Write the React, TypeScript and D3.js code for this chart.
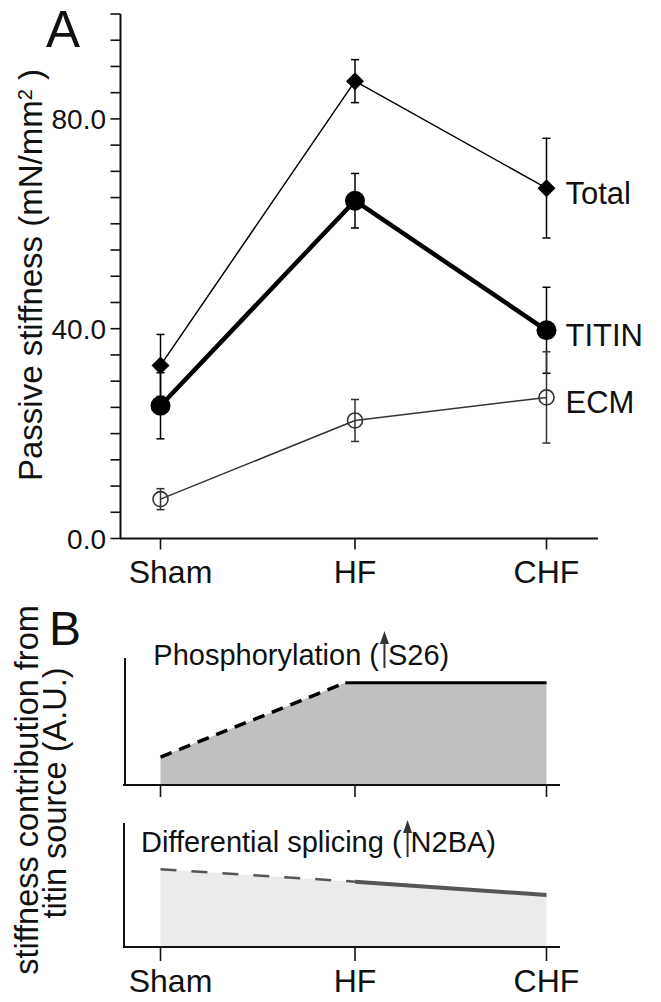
import React from "react";
import * as d3 from "d3";

// ---------- data ----------
const categories = ["Sham", "HF", "CHF"];
const seriesNames = ["Total", "TITIN", "ECM"];
const totalMean = [33.0, 87.2, 66.8];
const totalErr = [5.9, 4.1, 9.5];
const titinMean = [25.3, 64.4, 39.7];
const titinErr = [6.3, 5.2, 8.2];
const ecmMean = [7.5, 22.5, 26.9];
const ecmErr = [2.0, 4.0, 8.7];
const yTickLabels = [0, 40, 80];
const yMinorTicks = d3.range(0, 101, 5);

// Panel B (arbitrary units, category index positions)
const phosPos = [0, 0.95, 2];
const phosVal = [2.2, 8.05, 8.05];
const splicePos = [0, 1, 2];
const spliceVal = [6.27, 5.27, 4.19];

const FONT = "Liberation Sans, Arial, Helvetica, sans-serif";

export default function App() {
  const x = d3.scaleLinear().domain([0, 1, 2]).range([160.5, 355, 546.5]);
  const yA = d3.scaleLinear().domain([0, 100]).range([538.5, 14]);
  const yB1 = d3.scaleLinear().domain([0, 10]).range([785, 658]);
  const yB2 = d3.scaleLinear().domain([0, 10]).range([947, 823]);

  const lineA = d3
    .line<number>()
    .x((_, i) => x(i))
    .y((d) => yA(d));

  const series = [
    { name: seriesNames[0], mean: totalMean, err: totalErr, color: "#000", width: 1.5, marker: "diamond" },
    { name: seriesNames[1], mean: titinMean, err: titinErr, color: "#000", width: 4.5, marker: "circle" },
    { name: seriesNames[2], mean: ecmMean, err: ecmErr, color: "#333", width: 1.5, marker: "open" },
  ];

  const areaB1 = d3
    .area<number>()
    .x((_, i) => x(phosPos[i]))
    .y0(yB1(0))
    .y1((d) => yB1(d));
  const areaB2 = d3
    .area<number>()
    .x((_, i) => x(splicePos[i]))
    .y0(yB2(0))
    .y1((d) => yB2(d));
  const segB1 = (a: number, b: number) =>
    d3.line<number>().x((i) => x(phosPos[i])).y((i) => yB1(phosVal[i]))([a, b]) as string;
  const segB2 = (a: number, b: number) =>
    d3.line<number>().x((i) => x(splicePos[i])).y((i) => yB2(spliceVal[i]))([a, b]) as string;

  const arrow = (ax: number, yTop: number, yBot: number) => (
    <g>
      <line x1={ax} x2={ax} y1={yBot} y2={yTop + 8} stroke="#333" strokeWidth={2} />
      <polygon points={`${ax},${yTop} ${ax - 4.5},${yTop + 13} ${ax + 4.5},${yTop + 13}`} fill="#333" />
    </g>
  );

  const catLabel = (c: string, i: number, yBase: number) => (
    <text
      key={c}
      x={x(i) + (i === 0 ? 10 : 0)}
      y={yBase}
      textAnchor="middle"
      fontSize={32}
      fill="#111"
    >
      {c}
    </text>
  );

  const fsB = 29;
  const gap = 9;
  const phosPrefixEm = 7.781; // "Phosphorylation ("
  const splPrefixEm = 9.002; // "Differential splicing ("

  return (
    <svg
      width={661}
      height={1002}
      style={{ position: "absolute", left: 0, top: 0, background: "#fff" }}
      fontFamily={FONT}
    >
      <rect width={661} height={1002} fill="#fff" />
      {/* ---------- Panel A ---------- */}
      <text x={46} y={47} fontSize={51} fill="#111">A</text>
      {/* y axis */}
      <line x1={120.5} x2={120.5} y1={yA(100)} y2={yA(0)} stroke="#111" strokeWidth={2} />
      {yMinorTicks.map((t) => (
        <line key={t} x1={110.5} x2={120.5} y1={yA(t)} y2={yA(t)} stroke="#111" strokeWidth={1.6} />
      ))}
      {yTickLabels.map((t) => (
        <text key={t} x={106} y={yA(t) + 10} textAnchor="end" fontSize={28} fill="#111">
          {t.toFixed(1)}
        </text>
      ))}
      <text transform={`translate(42,275) rotate(-90)`} textAnchor="middle" fontSize={33} fill="#111">
        Passive stiffness (mN/mm
        <tspan dy={-10} fontSize={20}>2</tspan>
        <tspan dy={10}> )</tspan>
      </text>
      {/* x axis */}
      <line x1={120} x2={598} y1={yA(0)} y2={yA(0)} stroke="#111" strokeWidth={2} />
      {categories.map((c, i) => (
        <line key={c} x1={x(i)} x2={x(i)} y1={yA(0)} y2={yA(0) + 11} stroke="#111" strokeWidth={1.6} />
      ))}
      {categories.map((c, i) => catLabel(c, i, 583))}

      {/* lines */}
      {series.map((s) => (
        <path key={s.name} d={lineA(s.mean) as string} fill="none" stroke={s.color} strokeWidth={s.width} strokeLinejoin="round" />
      ))}
      {/* error bars */}
      {series.map((s) =>
        s.mean.map((m, i) => (
          <g key={s.name + i} stroke={s.color} strokeWidth={1.5}>
            <line x1={x(i)} x2={x(i)} y1={yA(m + s.err[i])} y2={yA(m - s.err[i])} />
            <line x1={x(i) - 4} x2={x(i) + 4} y1={yA(m + s.err[i])} y2={yA(m + s.err[i])} />
            <line x1={x(i) - 4} x2={x(i) + 4} y1={yA(m - s.err[i])} y2={yA(m - s.err[i])} />
          </g>
        ))
      )}
      {/* markers */}
      {series.map((s) =>
        s.mean.map((m, i) => {
          const cx = x(i);
          const cy = yA(m);
          if (s.marker === "diamond")
            return (
              <polygon key={s.name + "m" + i} points={`${cx},${cy - 9} ${cx + 9},${cy} ${cx},${cy + 9} ${cx - 9},${cy}`} fill="#000" />
            );
          if (s.marker === "circle") return <circle key={s.name + "m" + i} cx={cx} cy={cy} r={10} fill="#000" />;
          return <circle key={s.name + "m" + i} cx={cx} cy={cy} r={7.5} fill="none" stroke="#333" strokeWidth={1.6} />;
        })
      )}
      {/* series labels */}
      {series.map((s) => (
        <text key={s.name + "lab"} x={x(2) + 19} y={yA(s.mean[2]) + 15.5} fontSize={31} fill="#111">
          {s.name}
        </text>
      ))}

      {/* ---------- Panel B ---------- */}
      <text x={49} y={645} fontSize={48} fill="#111">B</text>
      <text transform={`translate(38,790) rotate(-90)`} textAnchor="middle" fontSize={32.5} fill="#111">
        stiffness contribution from
      </text>
      <text transform={`translate(66,793) rotate(-90)`} textAnchor="middle" fontSize={32.5} fill="#111">
        titin source (A.U.)
      </text>

      {/* upper subplot */}
      <path d={areaB1(phosVal) as string} fill="#c0c0c0" />
      <path d={segB1(0, 1)} fill="none" stroke="#000" strokeWidth={3.5} strokeDasharray="12,8" />
      <path d={segB1(1, 2)} fill="none" stroke="#000" strokeWidth={3} />
      <line x1={125} x2={125} y1={yB1(10)} y2={yB1(0)} stroke="#111" strokeWidth={2} />
      <line x1={123} x2={560} y1={yB1(0)} y2={yB1(0)} stroke="#111" strokeWidth={2} />
      {categories.map((c, i) => (
        <line key={c} x1={x(i)} x2={x(i)} y1={yB1(0)} y2={yB1(0) + 12} stroke="#111" strokeWidth={1.6} />
      ))}
      <text x={153.3} y={665} fontSize={fsB} fill="#111">
        Phosphorylation (<tspan dx={gap}>S26)</tspan>
      </text>
      {arrow(153.3 + phosPrefixEm * fsB + gap / 2 + 1, 631, 668)}

      {/* lower subplot */}
      <path d={areaB2(spliceVal) as string} fill="#ebebeb" />
      <path d={segB2(0, 1)} fill="none" stroke="#555" strokeWidth={2.5} strokeDasharray="16,15" />
      <path d={segB2(1, 2)} fill="none" stroke="#555" strokeWidth={4} />
      <line x1={124} x2={124} y1={yB2(10)} y2={yB2(0)} stroke="#111" strokeWidth={2} />
      <line x1={123} x2={560} y1={yB2(0)} y2={yB2(0)} stroke="#111" strokeWidth={2} />
      {categories.map((c, i) => (
        <line key={c} x1={x(i)} x2={x(i)} y1={yB2(0)} y2={yB2(0) + 14} stroke="#111" strokeWidth={1.6} />
      ))}
      <text x={141} y={852} fontSize={fsB} fill="#111">
        Differential splicing (<tspan dx={gap}>N2BA)</tspan>
      </text>
      {arrow(141 + splPrefixEm * fsB + gap / 2 + 1, 820, 857)}
      {categories.map((c, i) => catLabel(c, i, 992))}
    </svg>
  );
}
